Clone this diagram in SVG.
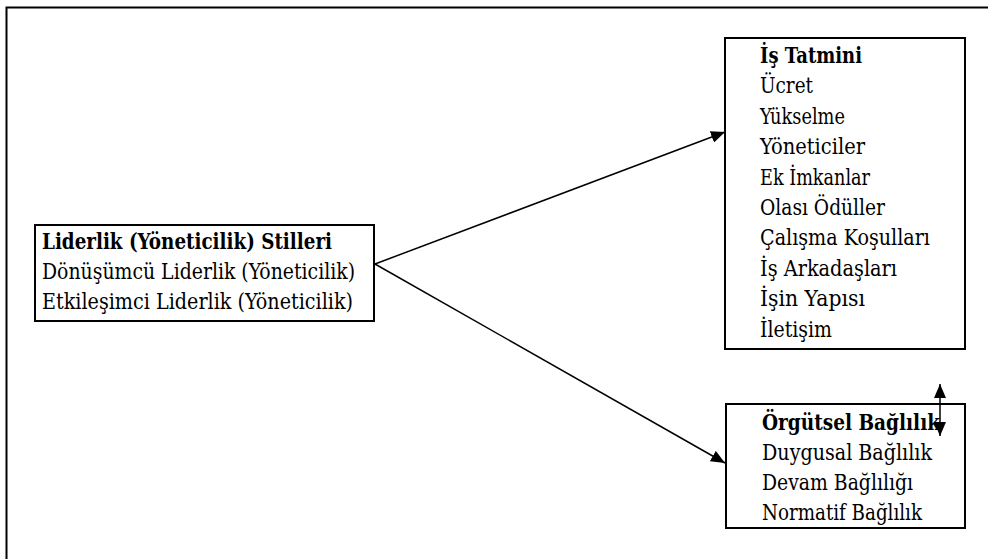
<svg xmlns="http://www.w3.org/2000/svg" width="988" height="559" viewBox="0 0 988 559">
  <defs>
    <marker id="arrow" viewBox="0 0 14 12" refX="14" refY="6" markerWidth="14" markerHeight="12" markerUnits="userSpaceOnUse" orient="auto-start-reverse">
      <path d="M0,0 L14,6 L0,12 Z" fill="#000"/>
    </marker>
  </defs>
  <style>
    .frame { fill: none; stroke: #000; stroke-width: 2; }
    .box { fill: #fff; stroke: #000; stroke-width: 2; }
    .link { fill: none; stroke: #000; stroke-width: 1.5; }
    text { font-family: "DejaVu Serif Condensed", "DejaVu Serif", "Liberation Serif", serif; font-size: 22px; fill: #000; }
    .title { font-weight: bold; }
  </style>

  <rect width="988" height="559" fill="#fff"/>
  <!-- outer frame: top and left edges -->
  <path class="frame" d="M6.5,559 V7.5 H988"/>

  <g id="liderlik">
    <rect class="box" x="35" y="225" width="339" height="96"/>
    <text x="42" y="249" class="title" textLength="290" lengthAdjust="spacingAndGlyphs">Liderlik (Yöneticilik) Stilleri</text>
    <text x="42" y="279" textLength="313" lengthAdjust="spacingAndGlyphs">Dönüşümcü Liderlik (Yöneticilik)</text>
    <text x="42" y="309" textLength="311" lengthAdjust="spacingAndGlyphs">Etkileşimci Liderlik (Yöneticilik)</text>
  </g>

  <g id="is-tatmini">
    <rect class="box" x="725" y="38" width="240" height="311"/>
    <text x="760" y="63" class="title" textLength="102" lengthAdjust="spacingAndGlyphs">İş Tatmini</text>
    <text x="760" y="93.4" textLength="53" lengthAdjust="spacingAndGlyphs">Ücret</text>
    <text x="760" y="123.8" textLength="85" lengthAdjust="spacingAndGlyphs">Yükselme</text>
    <text x="760" y="154.2" textLength="105" lengthAdjust="spacingAndGlyphs">Yöneticiler</text>
    <text x="760" y="184.6" textLength="110" lengthAdjust="spacingAndGlyphs">Ek İmkanlar</text>
    <text x="760" y="215" textLength="125" lengthAdjust="spacingAndGlyphs">Olası Ödüller</text>
    <text x="760" y="245.4" textLength="170" lengthAdjust="spacingAndGlyphs">Çalışma Koşulları</text>
    <text x="760" y="275.8" textLength="137" lengthAdjust="spacingAndGlyphs">İş Arkadaşları</text>
    <text x="760" y="306.2" textLength="105" lengthAdjust="spacingAndGlyphs">İşin Yapısı</text>
    <text x="760" y="336.6" textLength="72" lengthAdjust="spacingAndGlyphs">İletişim</text>
  </g>

  <g id="orgutsel-baglilik">
    <rect class="box" x="726" y="404" width="239" height="124"/>
    <text x="762" y="430" class="title" textLength="178" lengthAdjust="spacingAndGlyphs">Örgütsel Bağlılık</text>
    <text x="762" y="460" textLength="170" lengthAdjust="spacingAndGlyphs">Duygusal Bağlılık</text>
    <text x="762" y="490" textLength="151" lengthAdjust="spacingAndGlyphs">Devam Bağlılığı</text>
    <text x="762" y="520" textLength="160" lengthAdjust="spacingAndGlyphs">Normatif Bağlılık</text>
  </g>

  <g id="connectors">
    <line class="link" x1="375" y1="264" x2="725" y2="132" marker-end="url(#arrow)"/>
    <line class="link" x1="375" y1="264" x2="725" y2="463" marker-end="url(#arrow)"/>
    <line class="link" x1="940" y1="384" x2="940" y2="436" marker-start="url(#arrow)" marker-end="url(#arrow)"/>
  </g>
</svg>
